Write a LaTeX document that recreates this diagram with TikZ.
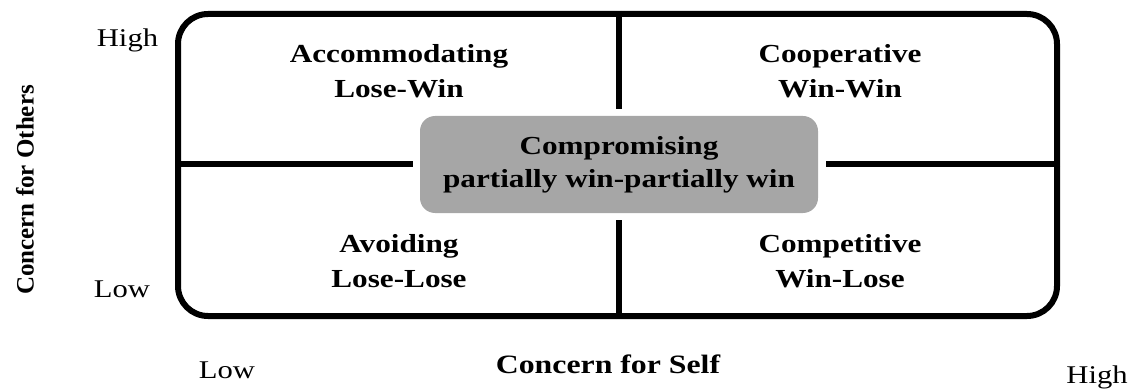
\documentclass[tikz,border=0pt]{standalone}
\usepackage{fontspec}
\setmainfont{Liberation Serif}[FakeStretch=1.2]
\newfontfamily\plainserif{Liberation Serif}
\begin{document}
\begin{tikzpicture}[x=1pt,y=-1pt,
  quadlabel/.style={align=center,font=\bfseries\fontsize{26}{35}\selectfont,inner sep=0pt},
  axislabel/.style={anchor=base,font=\fontsize{25.5}{30}\selectfont,inner sep=0pt},
  divider/.style={line width=6pt}]
\useasboundingbox (0,0) rectangle (1137,390);
\node (frame) at (617.5,165) [draw,line width=6pt,rounded corners=30pt,minimum width=879pt,minimum height=302pt] {};
\node (cmp) at (619,164.5) [fill=black!35,rounded corners=15pt,minimum width=398pt,minimum height=97pt] {};
\node (cmptext) at (619,164.5) [quadlabel,font=\bfseries\fontsize{26}{33}\selectfont] {Compromising\\partially win-partially win};
\draw[divider] (frame.north -| cmp.north) -- ([yshift=7pt]cmp.north);
\draw[divider] (frame.south -| cmp.south) -- ([yshift=-7pt]cmp.south);
\draw[divider] (frame.west |- cmp.west) -- ([xshift=-7pt]cmp.west);
\draw[divider] (frame.east |- cmp.east) -- ([xshift=8pt]cmp.east);
\node (acc) at (399,71) [quadlabel] {Accommodating\\Lose-Win};
\node (coop) at (840,71) [quadlabel] {Cooperative\\Win-Win};
\node (avoid) at (399,261) [quadlabel] {Avoiding\\Lose-Lose};
\node (comp) at (840,261) [quadlabel] {Competitive\\Win-Lose};
\node (highy) at (127.5,47) [axislabel] {High};
\node (lowy) at (122,297) [axislabel] {Low};
\node (lowx) at (227,378) [axislabel] {Low};
\node (highx) at (1097,383) [axislabel] {High};
\node (self) at (608,373) [axislabel,font=\bfseries\fontsize{26.5}{30}\selectfont] {Concern for Self};
\node (others) at (25,190) [rotate=90,inner sep=0pt,font=\plainserif\bfseries\fontsize{25}{30}\selectfont] {Concern for Others};
\end{tikzpicture}
\end{document}
